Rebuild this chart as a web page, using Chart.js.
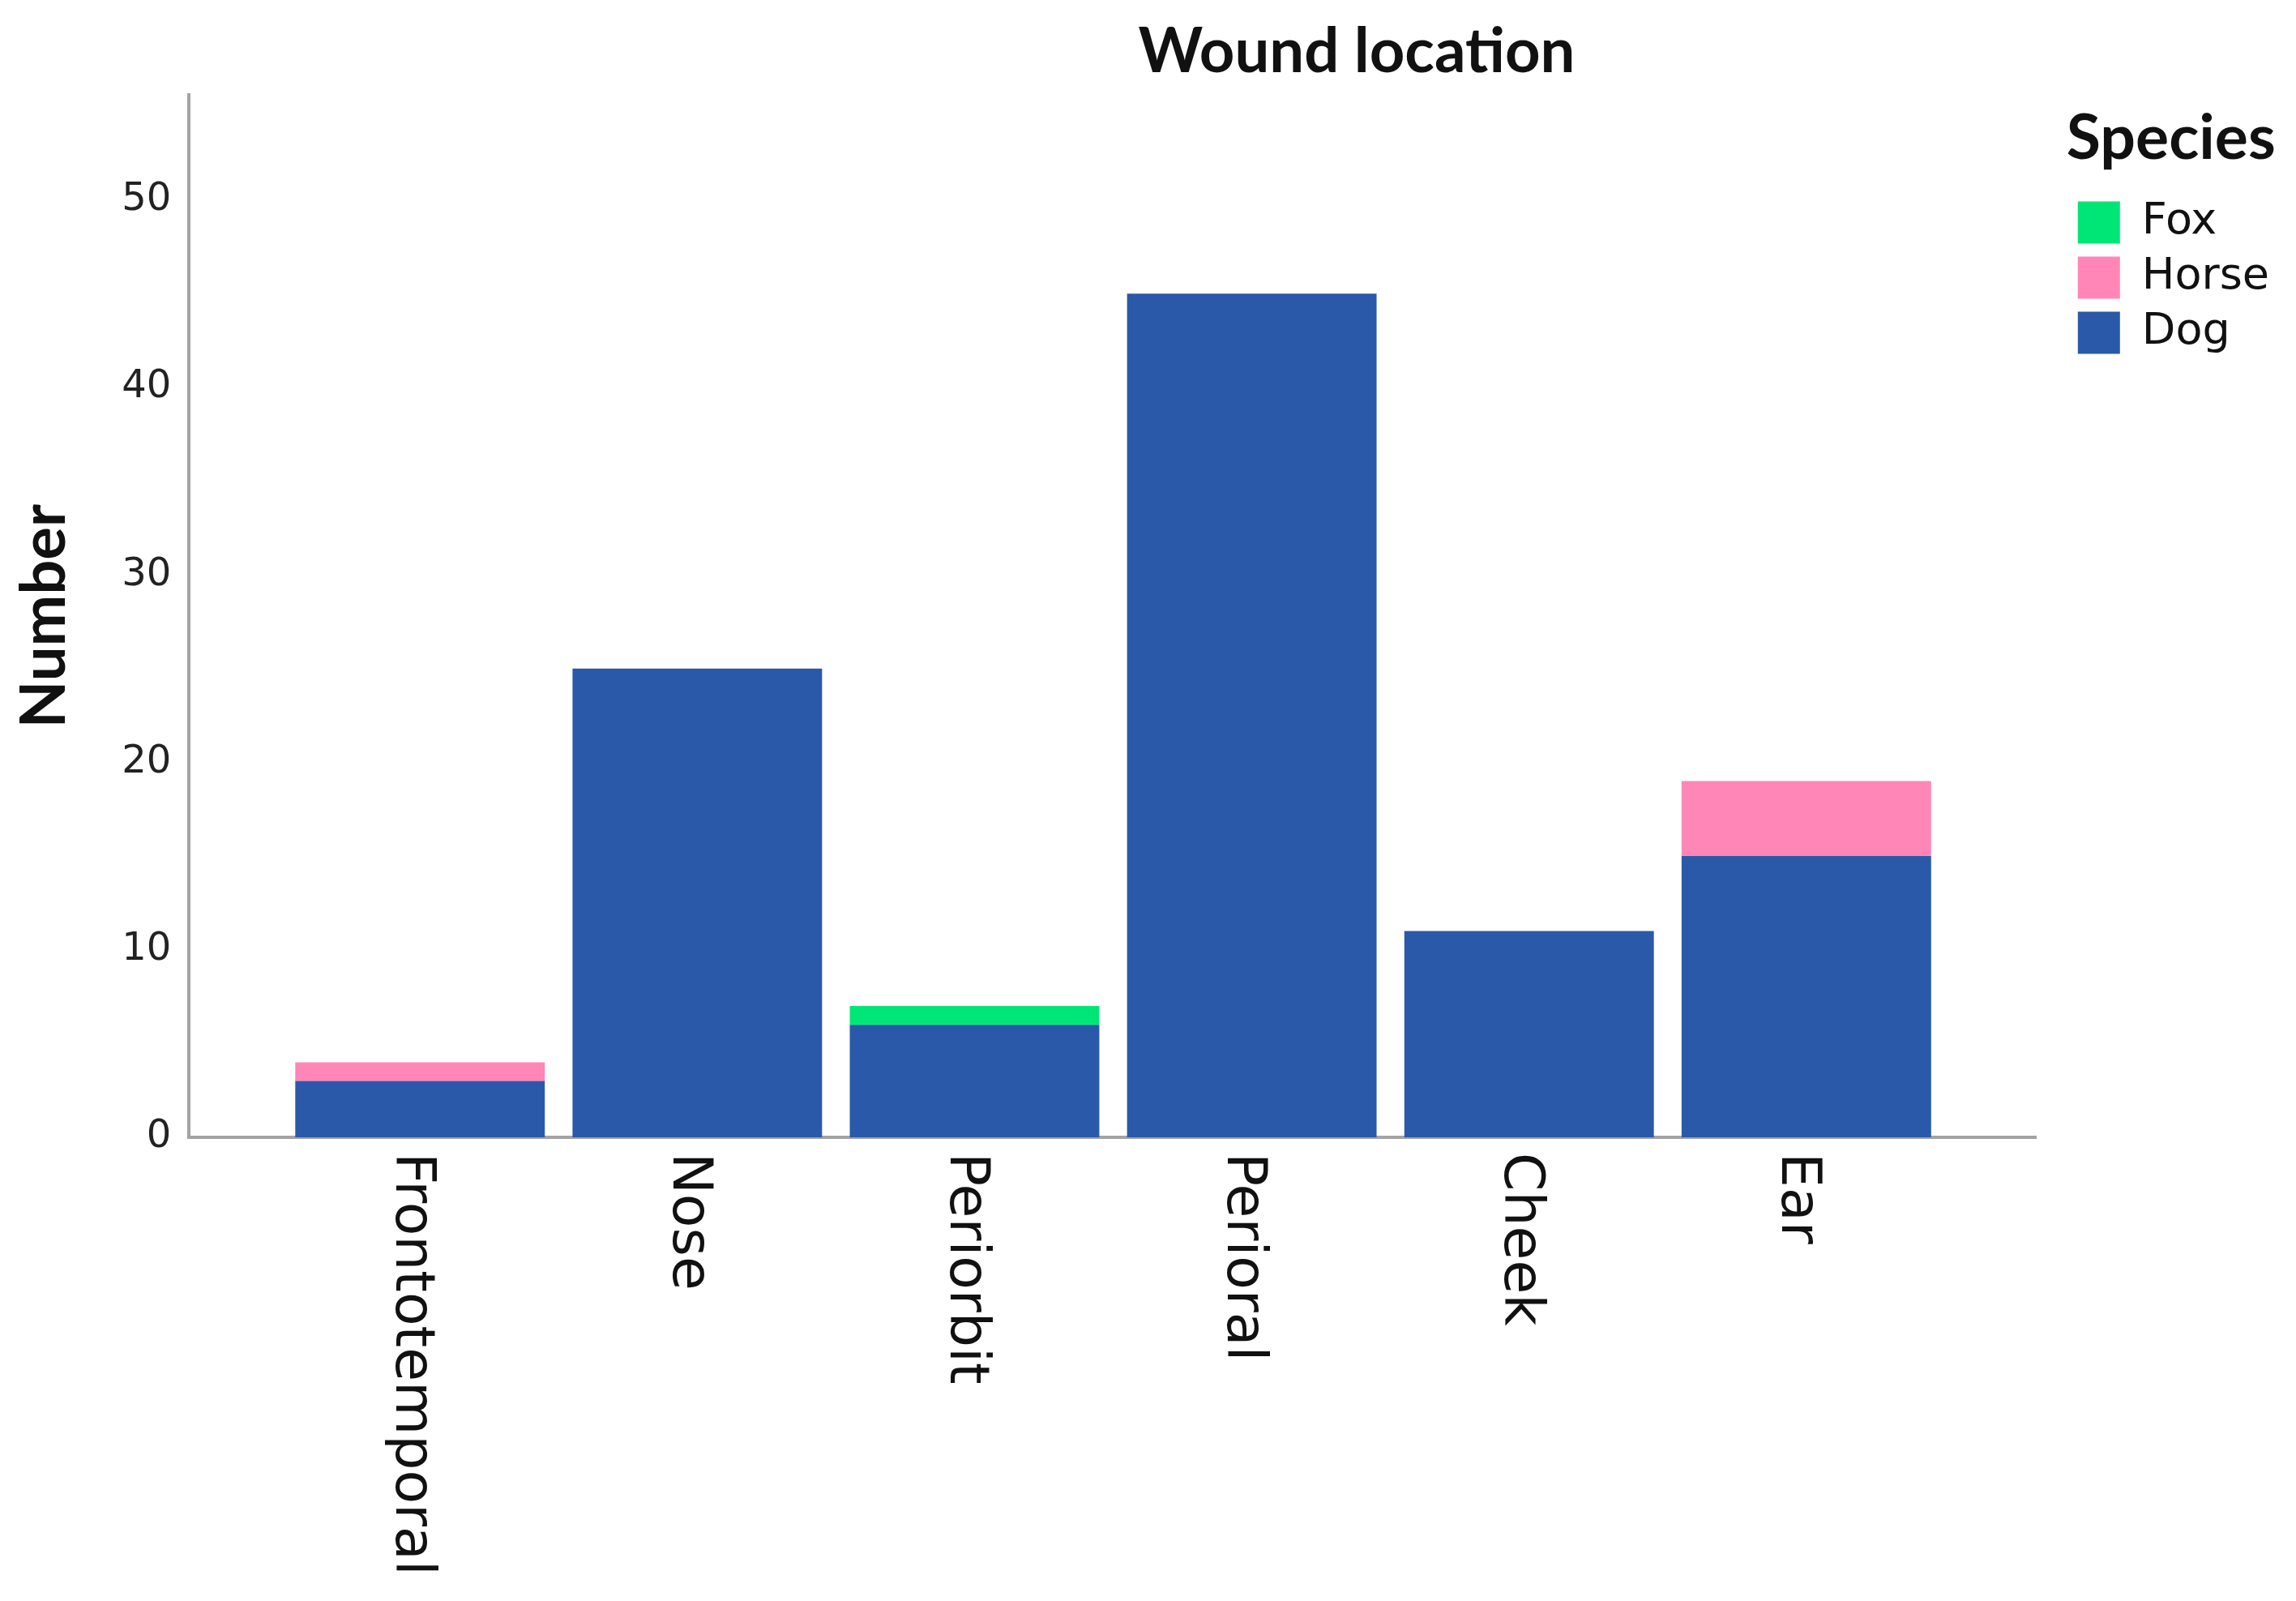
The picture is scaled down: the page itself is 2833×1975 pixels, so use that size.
<!DOCTYPE html>
<html>
<head>
<meta charset="utf-8">
<title>Wound location</title>
<script src="https://cdn.jsdelivr.net/npm/chart.js@4.4.0/dist/chart.umd.min.js"></script>
<style>
  html, body { margin: 0; padding: 0; background: #fff; }
  #wrap { width: 2833px; height: 1975px; }
</style>
</head>
<body>
<div id="wrap"><canvas id="wound-chart"></canvas></div>
<script>
// --- Data ---
const locations = ["Frontotemporal", "Nose", "Periorbit", "Perioral", "Cheek", "Ear"];
const dogCounts = [3, 25, 6, 45, 11, 15];
const horseCounts = [1, 0, 0, 0, 0, 4];
const foxCounts = [0, 0, 1, 0, 0, 0];
const yTicks = [0, 10, 20, 30, 40, 50];

const AXIS_GREY = '#a3a3a3';
const TEXT = '#111111';

// one point per location, x = category index on a linear scale
const toPoints = arr => arr.map((v, i) => ({ x: i, y: v }));

// --- Chart title (centred where the original puts it) ---
const titlePlugin = {
    id: 'woundTitle',
    afterDraw(chart) {
        const { ctx } = chart;
        ctx.save();
        ctx.font = 'bold 76px Lato';
        ctx.fillStyle = TEXT;
        ctx.textAlign = 'center';
        ctx.textBaseline = 'alphabetic';
        ctx.fillText('Wound location', 1674, 89);
        ctx.restore();
    }
};

// --- Category labels, rotated clockwise and reading downwards ---
const xLabelsPlugin = {
    id: 'xLabels',
    afterDraw(chart) {
        const { ctx, chartArea } = chart;
        const xScale = chart.scales.x;
        ctx.save();
        ctx.font = '68px "DejaVu Sans"';
        ctx.fillStyle = TEXT;
        ctx.textAlign = 'left';
        ctx.textBaseline = 'middle';
        locations.forEach((name, i) => {
            ctx.save();
            ctx.translate(xScale.getPixelForValue(i) - 12, chartArea.bottom + 19);
            ctx.rotate(Math.PI / 2);
            ctx.fillText(name, 0, 0);
            ctx.restore();
        });
        ctx.restore();
    }
};

const ctx = document.getElementById('wound-chart').getContext('2d');

new Chart(ctx, {
    type: 'bar',
    data: {
        datasets: [
            { label: 'Dog', data: toPoints(dogCounts), backgroundColor: '#2b59a9' },
            { label: 'Horse', data: toPoints(horseCounts), backgroundColor: '#ff86b6' },
            { label: 'Fox', data: toPoints(foxCounts), backgroundColor: '#00e676' }
        ]
    },
    options: {
        responsive: true,
        maintainAspectRatio: false,
        devicePixelRatio: 1,
        animation: false,
        barPercentage: 0.9,
        categoryPercentage: 1.0,
        layout: { padding: { top: 117, left: 0, right: 23, bottom: 572 } },
        plugins: {
            tooltip: { enabled: false },
            legend: {
                position: 'right',
                align: 'start',
                reverse: true,
                title: {
                    display: true,
                    text: 'Species',
                    position: 'start',
                    color: TEXT,
                    font: { family: 'Lato', size: 77, weight: 'bold' },
                    padding: { top: 16, bottom: 8 }
                },
                labels: {
                    font: { family: 'DejaVu Sans', size: 54 },
                    color: TEXT,
                    boxWidth: 52,
                    boxHeight: 52,
                    padding: 14
                }
            }
        },
        scales: {
            x: {
                type: 'linear',
                stacked: true,
                offset: false,
                min: -0.833,
                max: 5.83,
                bounds: 'data',
                afterBuildTicks(scale) {
                    scale.ticks = locations.map((_, i) => ({ value: i }));
                },
                grid: { display: false, drawTicks: false },
                border: { display: true, color: AXIS_GREY, width: 4 },
                ticks: { display: false }
            },
            y: {
                stacked: true,
                min: 0,
                max: 55.6,
                bounds: 'data',
                afterBuildTicks(scale) {
                    scale.ticks = yTicks.map(v => ({ value: v }));
                },
                grid: { display: false, drawTicks: false },
                border: { display: true, color: AXIS_GREY, width: 4 },
                ticks: {
                    font: { family: 'DejaVu Sans', size: 48 },
                    color: '#222222',
                    padding: 22
                },
                title: {
                    display: true,
                    text: 'Number',
                    color: TEXT,
                    font: { family: 'Lato', size: 76, weight: 'bold' },
                    padding: { top: 10, bottom: 27 }
                }
            },
            // empty box that keeps the legend away from the plot edge
            legendGap: {
                type: 'linear',
                position: 'right',
                display: true,
                grid: { display: false, drawTicks: false },
                border: { display: false },
                ticks: { display: false },
                afterFit(scale) { scale.width = 37; }
            }
        }
    },
    plugins: [titlePlugin, xLabelsPlugin]
});
</script>
</body>
</html>
